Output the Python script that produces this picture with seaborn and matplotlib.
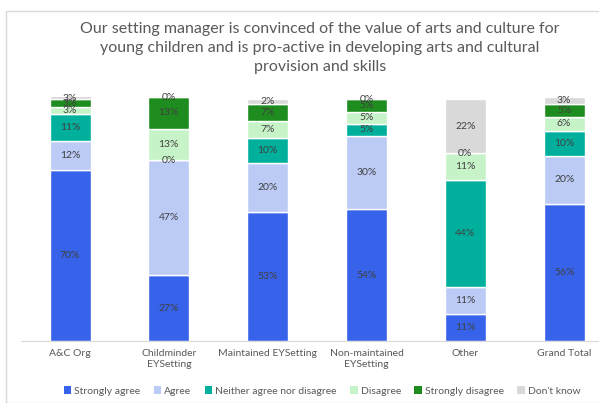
import numpy as np
import pandas as pd
import matplotlib.pyplot as plt
import seaborn as sns
from matplotlib.patches import Rectangle, Patch

sns.set_style("white")
plt.rcParams["font.family"] = ["Lato", "DejaVu Sans"]

# categories and answers
groups = ["A&C Org", "Childminder\nEYSetting", "Maintained EYSetting",
          "Non-maintained\nEYSetting", "Other", "Grand Total"]
answers = ["Strongly agree", "Agree", "Neither agree nor disagree",
           "Disagree", "Strongly disagree", "Don't know"]

# percentages per answer (one value per group)
strongly_agree = [70, 27, 53, 54, 11, 56]
agree = [12, 47, 20, 30, 11, 20]
neither = [11, 0, 10, 5, 44, 10]
disagree = [3, 13, 7, 5, 11, 6]
strongly_disagree = [3, 13, 7, 5, 0, 5]
dont_know = [3, 0, 2, 0, 22, 3]

colours = ["#3763EA", "#BBCBF6", "#00B09D", "#C7F3C9", "#1E8C1E", "#D9D9D9"]

df = pd.DataFrame({
    "group": groups,
    answers[0]: strongly_agree,
    answers[1]: agree,
    answers[2]: neither,
    answers[3]: disagree,
    answers[4]: strongly_disagree,
    answers[5]: dont_know,
})

fig = plt.figure(figsize=(5.99, 4.03), dpi=100)
# chart border (cut off on the right like the screenshot)
fig.patches.append(Rectangle((6 / 599, 0.0), 1.2, 1 - 11 / 403, transform=fig.transFigure,
                             fill=False, edgecolor="#D9D9D9", linewidth=1.0))
ax = fig.add_axes([20.6 / 599, 1 - 341 / 403, 593 / 599, 244 / 403])

bottom = np.zeros(len(groups))
for ans, col in zip(answers, colours):
    sns.barplot(data=df, x="group", y=ans, color=col, bottom=bottom, width=0.415,
                saturation=1, ax=ax)
    bottom += df[ans].values

for cont, ans in zip(ax.containers, answers):
    ax.bar_label(cont, labels=[f"{v}%" for v in df[ans]], label_type="center",
                 fontsize=7.5, color="#404040")

ax.set_ylim(0, 100)
ax.set_xlim(-0.5, 5.5)
ax.set_xlabel("")
ax.set_ylabel("")
ax.set_yticks([])
ax.tick_params(axis="x", length=0, labelsize=7.5, labelcolor="#595959", pad=6)
for s in ["top", "left", "right"]:
    ax.spines[s].set_visible(False)
ax.spines["bottom"].set_color("#D9D9D9")

fig.text(320 / 599, 1 - 48 / 403,
         "Our setting manager is convinced of the value of arts and culture for\n"
         "young children and is pro-active in developing arts and cultural\n"
         "provision and skills",
         ha="center", va="center", fontsize=11.5, color="#595959", linespacing=1.45)

handles = [Patch(facecolor=c, edgecolor="none") for c in colours]
fig.legend(handles, answers, loc="center", bbox_to_anchor=(322 / 599, 1 - 391 / 403),
           ncol=6, frameon=False, fontsize=7.5, labelcolor="#595959",
           handlelength=0.7, handleheight=0.7, handletextpad=0.3, columnspacing=1.3)

fig.savefig("out.png", dpi=100)
